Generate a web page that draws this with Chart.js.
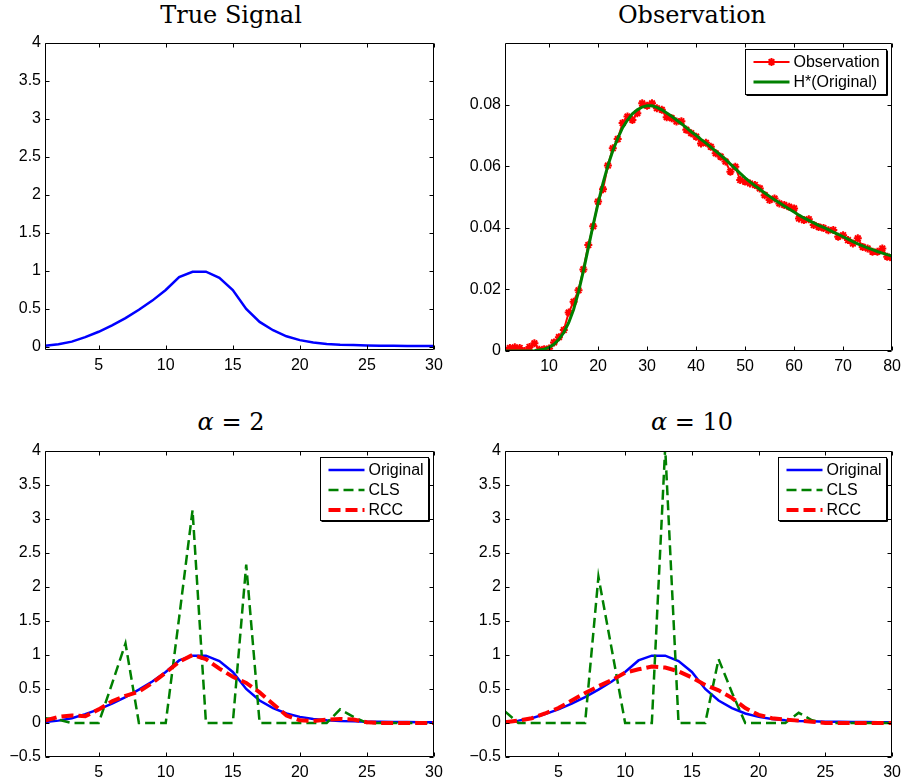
<!DOCTYPE html>
<html>
<head>
<meta charset="utf-8">
<title>Signal recovery</title>
<script src="https://cdn.jsdelivr.net/npm/chart.js@4.4.1/dist/chart.umd.min.js"></script>
<style>
  html, body { margin: 0; padding: 0; background: #fff; }
  body { width: 907px; height: 784px; position: relative; overflow: hidden; }
  .panel { position: absolute; }
  .panel canvas { display: block; }
  .title {
    position: absolute; transform: translateX(-50%);
    font-family: 'DejaVu Serif', serif; font-size: 24px; line-height: 1;
    color: #000; white-space: nowrap;
  }
</style>
</head>
<body>
<div class="title" style="left:231px; top:3px;">True Signal</div>
<div class="title" style="left:692px; top:3px;">Observation</div>
<div class="title" style="left:231px; top:410px;"><i>α</i> = 2</div>
<div class="title" style="left:692px; top:410px;"><i>α</i> = 10</div>

<div class="panel" style="left:0; top:0;"><canvas id="chart-signal" width="450" height="380"></canvas></div>
<div class="panel" style="left:450px; top:0;"><canvas id="chart-obs" width="457" height="380"></canvas></div>
<div class="panel" style="left:0; top:400px;"><canvas id="chart-a2" width="450" height="384"></canvas></div>
<div class="panel" style="left:450px; top:400px;"><canvas id="chart-a10" width="457" height="384"></canvas></div>

<script>
// ─── Data ─────────────────────────────────────────────────────────────────────
const signalX = Array.from({ length: 30 }, (_, i) => i + 1);
const obsX = Array.from({ length: 80 }, (_, i) => i + 1);

const signalOriginal = [0.015, 0.035, 0.07, 0.13, 0.2, 0.285, 0.38, 0.49, 0.61, 0.75,
  0.92, 0.99, 0.99, 0.91, 0.75, 0.5, 0.33, 0.22, 0.14, 0.09,
  0.06, 0.04, 0.03, 0.025, 0.02, 0.017, 0.015, 0.013, 0.012, 0.011];

const observation = [0.0005, 0.001, 0.0012, 0.001, 0.0, 0.0013, 0.0025, 0.0004, 0.0006, 0.0008,
  0.0028, 0.0045, 0.0068, 0.0125, 0.016, 0.0197, 0.0265, 0.0344, 0.0405, 0.0485,
  0.0525, 0.0602, 0.0658, 0.0688, 0.074, 0.0761, 0.075, 0.0772, 0.0804, 0.0796,
  0.0804, 0.0788, 0.0783, 0.0759, 0.0756, 0.0745, 0.0746, 0.0718, 0.0707, 0.0696,
  0.0674, 0.0676, 0.0663, 0.0642, 0.0631, 0.0615, 0.0582, 0.0598, 0.0555, 0.055,
  0.0544, 0.0539, 0.0528, 0.0506, 0.049, 0.0495, 0.0479, 0.0474, 0.0468, 0.0463,
  0.043, 0.0425, 0.0428, 0.0409, 0.0403, 0.0399, 0.0392, 0.0393, 0.0371, 0.0376,
  0.036, 0.0349, 0.0366, 0.0338, 0.0333, 0.0322, 0.0322, 0.0333, 0.0306, 0.0302];

const hOriginal = [0, 0, 0, 0, 0, 0, 0.0001, 0.0003, 0.0006, 0.0012,
  0.0022, 0.0038, 0.006, 0.0092, 0.0135, 0.0192, 0.026, 0.0335, 0.041, 0.048,
  0.0545, 0.0602, 0.065, 0.069, 0.0725, 0.075, 0.077, 0.0783, 0.0792, 0.0796,
  0.0796, 0.0791, 0.0783, 0.0773, 0.0762, 0.075, 0.0738, 0.0725, 0.0712, 0.07,
  0.0687, 0.0675, 0.0662, 0.0649, 0.0636, 0.0622, 0.0607, 0.0592, 0.0577, 0.0562,
  0.0549, 0.0537, 0.0525, 0.0513, 0.0502, 0.0491, 0.0481, 0.0471, 0.0461, 0.0451,
  0.0441, 0.0432, 0.0424, 0.0416, 0.0408, 0.0401, 0.0394, 0.0386, 0.0379, 0.0371,
  0.0363, 0.0355, 0.0348, 0.0341, 0.0335, 0.0329, 0.0323, 0.0318, 0.0313, 0.0308];

const clsAlpha2 = [0.07, 0.05, 0, 0, 0, 0.58, 1.17, 0, 0, 0,
  1.55, 3.13, 0, 0, 0, 2.33, 0, 0, 0, 0,
  0, 0, 0.2, 0.09, 0, 0, 0, 0, 0, 0];
const rccAlpha2 = [0.035, 0.09, 0.11, 0.1, 0.2, 0.32, 0.4, 0.46, 0.59, 0.74,
  0.9, 1.0, 0.94, 0.8, 0.68, 0.59, 0.45, 0.28, 0.11, 0.04,
  0.03, 0.05, 0.06, 0.05, 0.01, 0, 0, 0, 0, 0];

const clsAlpha10 = [0.17, 0, 0, 0, 0, 0, 0, 2.15, 1.08, 0,
  0, 0, 4.05, 0, 0, 0, 0.94, 0.45, 0, 0,
  0, 0, 0.15, 0.04, 0, 0, 0, 0, 0, 0];
const rccAlpha10 = [0.01, 0.035, 0.07, 0.14, 0.22, 0.33, 0.44, 0.54, 0.63, 0.74,
  0.79, 0.83, 0.815, 0.76, 0.67, 0.56, 0.48, 0.37, 0.22, 0.12,
  0.07, 0.05, 0.035, 0.02, 0, 0, 0, 0, 0, 0];

const signalXTicks = [5, 10, 15, 20, 25, 30];
const obsXTicks = [10, 20, 30, 40, 50, 60, 70, 80];
const signalYTicks = [0, 0.5, 1, 1.5, 2, 2.5, 3, 3.5, 4];
const recoverYTicks = [-0.5, 0, 0.5, 1, 1.5, 2, 2.5, 3, 3.5, 4];
const obsYTicks = [0, 0.02, 0.04, 0.06, 0.08];

// ─── Styling helpers ──────────────────────────────────────────────────────────
const TICK_FONT = { family: "'Liberation Sans', Arial, sans-serif", size: 16 };
const TICK_LEN = 4;

const pts = (xs, ys) => xs.map((x, i) => ({ x, y: ys[i] }));
const fmtTick = v => String(v).replace('-', '\u2212');

// MATLAB style box with inward ticks on all four sides
const matlabAxes = {
  id: 'matlabAxes',
  afterDatasetsDraw(chart) {
    const { ctx, chartArea: a, scales: { x, y } } = chart;
    const L = Math.round(a.left) + 0.5, R = Math.round(a.right) - 0.5;
    const T = Math.round(a.top) + 0.5, B = Math.round(a.bottom) - 0.5;
    ctx.save();
    ctx.strokeStyle = '#000';
    ctx.lineWidth = 1;
    ctx.beginPath();
    x.ticks.forEach(t => {
      const px = Math.round(x.getPixelForValue(t.value)) + 0.5;
      ctx.moveTo(px, B); ctx.lineTo(px, B - TICK_LEN);
      ctx.moveTo(px, T); ctx.lineTo(px, T + TICK_LEN);
    });
    y.ticks.forEach(t => {
      const py = Math.round(y.getPixelForValue(t.value)) + 0.5;
      ctx.moveTo(L, py); ctx.lineTo(L + TICK_LEN, py);
      ctx.moveTo(R, py); ctx.lineTo(R - TICK_LEN, py);
    });
    ctx.rect(L, T, R - L, B - T);
    ctx.stroke();
    ctx.restore();
  }
};

// Legend box drawn inside the axes, top right
const boxLegend = {
  id: 'boxLegend',
  afterDraw(chart, args, opts) {
    if (!opts || !opts.width) return;
    const { ctx, chartArea: a } = chart;
    const left = Math.round(a.right - opts.inset - opts.width) + 0.5;
    const top = Math.round(a.top + opts.inset) + 0.5;
    ctx.save();
    ctx.fillStyle = '#fff';
    ctx.fillRect(left, top, opts.width, opts.height);
    ctx.strokeStyle = '#000';
    ctx.lineWidth = 1;
    ctx.strokeRect(left, top, opts.width, opts.height);
    ctx.beginPath();
    ctx.moveTo(left + opts.width + 1, top + 1);
    ctx.lineTo(left + opts.width + 1, top + opts.height + 1);
    ctx.lineTo(left + 1, top + opts.height + 1);
    ctx.stroke();

    chart.data.datasets.forEach((ds, i) => {
      const cy = Math.round(top + 12 + i * 20);
      ctx.strokeStyle = ds.borderColor;
      ctx.lineWidth = ds.borderWidth;
      ctx.setLineDash(ds.borderDash || []);
      ctx.beginPath();
      ctx.moveTo(left + 8, cy);
      ctx.lineTo(left + 44, cy);
      ctx.stroke();
      ctx.setLineDash([]);
      if (ds.pointRadius > 0) {
        ctx.strokeStyle = ds.pointBorderColor;
        ctx.fillStyle = ds.pointBackgroundColor;
        ctx.lineWidth = ds.pointBorderWidth;
        Chart.helpers.drawPoint(ctx, {
          pointStyle: ds.pointStyle, radius: ds.pointRadius,
          borderWidth: ds.pointBorderWidth, rotation: 0
        }, left + 26, cy);
      }
      ctx.fillStyle = '#000';
      ctx.font = "16px 'Liberation Sans', Arial, sans-serif";
      ctx.textBaseline = 'middle';
      ctx.fillText(ds.label, left + 48, cy + 1);
    });
    ctx.restore();
  }
};

Chart.register(matlabAxes, boxLegend);

function buildOptions(p) {
  return {
    responsive: false,
    animation: false,
    devicePixelRatio: 1,
    events: [],
    layout: { padding: { top: p.area.top, right: p.W - p.area.right, left: 0, bottom: 0 } },
    plugins: {
      legend: { display: false },
      tooltip: { enabled: false },
      boxLegend: p.legend || {},
    },
    elements: { line: { tension: 0 }, point: { radius: 0 } },
    scales: {
      x: {
        type: 'linear', min: p.xLim[0], max: p.xLim[1],
        grid: { display: false, drawTicks: false },
        border: { display: false },
        ticks: { font: TICK_FONT, color: '#000', padding: 6, maxRotation: 0, autoSkip: false, callback: fmtTick },
        afterBuildTicks: s => { s.ticks = p.xTicks.map(v => ({ value: v })); },
        afterFit: s => { s.height = p.H - p.area.bottom; },
      },
      y: {
        type: 'linear', min: p.yLim[0], max: p.yLim[1],
        grid: { display: false, drawTicks: false },
        border: { display: false },
        ticks: { font: TICK_FONT, color: '#000', padding: 4, autoSkip: false, callback: fmtTick },
        afterBuildTicks: s => { s.ticks = p.yTicks.map(v => ({ value: v })); },
        afterFit: s => { s.width = p.area.left; },
      }
    }
  };
}

const blueLine = ys => ({
  label: 'Original', data: pts(signalX, ys), borderColor: '#0000ff', borderWidth: 2.5,
  pointRadius: 0, fill: false, order: 2,
});
const clsLine = ys => ({
  label: 'CLS', data: pts(signalX, ys), borderColor: '#008000', borderWidth: 2.5,
  borderDash: [10, 5], pointRadius: 0, fill: false, order: 1,
});
const rccLine = ys => ({
  label: 'RCC', data: pts(signalX, ys), borderColor: '#ff0000', borderWidth: 4,
  borderDash: [12, 5], pointRadius: 0, fill: false, order: 0,
});

// ─── True Signal ──────────────────────────────────────────────────────────────
function renderSignal() {
  new Chart(document.getElementById('chart-signal'), {
    type: 'line',
    data: { datasets: [{ ...blueLine(signalOriginal) }] },
    options: buildOptions({
      W: 450, H: 380, area: { left: 45, right: 434, top: 43, bottom: 350 },
      xLim: [1, 30], yLim: [-0.04, 4], xTicks: signalXTicks, yTicks: signalYTicks,
    })
  });
}

// ─── Observation ──────────────────────────────────────────────────────────────
function renderObservation() {
  new Chart(document.getElementById('chart-obs'), {
    type: 'line',
    data: {
      datasets: [
        {
          label: 'Observation', data: pts(obsX, observation),
          borderColor: '#ff0000', borderWidth: 2,
          pointStyle: 'star', pointRadius: 4, pointBorderWidth: 2,
          pointBorderColor: '#ff0000', pointBackgroundColor: '#ff0000', order: 1,
        },
        {
          label: 'H*(Original)', data: pts(obsX, hOriginal),
          borderColor: '#008000', borderWidth: 3, pointRadius: 0, order: 0,
        }
      ]
    },
    options: buildOptions({
      W: 457, H: 380, area: { left: 55, right: 445, top: 43, bottom: 351 },
      xLim: [1, 80], yLim: [0, 0.1], xTicks: obsXTicks, yTicks: obsYTicks,
      legend: { inset: 6, width: 141, height: 45 },
    })
  });
}

// ─── Recovered signals ───────────────────────────────────────────────────────
function renderRecovery(id, cls, rcc) {
  new Chart(document.getElementById(id), {
    type: 'line',
    data: { datasets: [blueLine(signalOriginal), clsLine(cls), rccLine(rcc)] },
    options: buildOptions({
      W: id === 'chart-a2' ? 450 : 457, H: 384,
      area: id === 'chart-a2'
        ? { left: 45, right: 434, top: 51, bottom: 357 }
        : { left: 55, right: 445, top: 51, bottom: 357 },
      xLim: [1, 30], yLim: [-0.5, 4], xTicks: signalXTicks, yTicks: recoverYTicks,
      legend: { inset: 6, width: 108, height: 63 },
    })
  });
}

renderSignal();
renderObservation();
renderRecovery('chart-a2', clsAlpha2, rccAlpha2);
renderRecovery('chart-a10', clsAlpha10, rccAlpha10);
</script>
</body>
</html>
